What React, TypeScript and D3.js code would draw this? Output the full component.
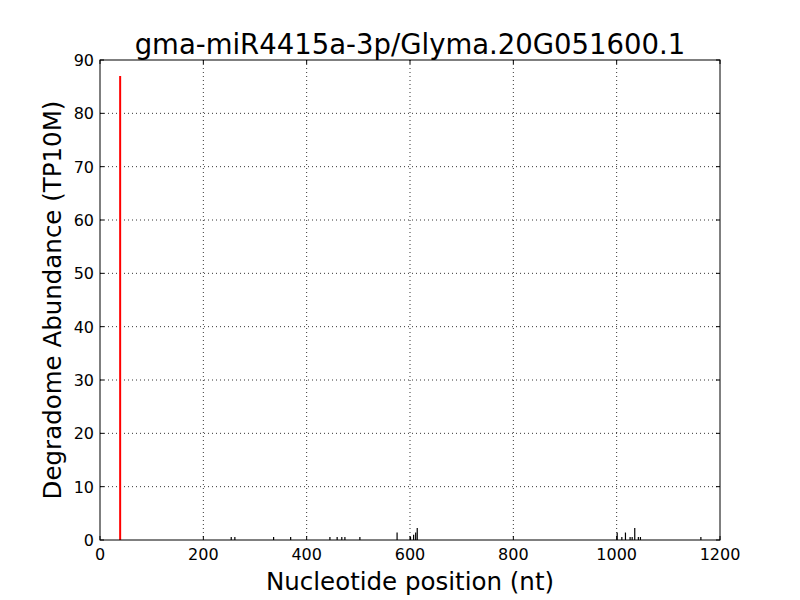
import React from 'react'
import { scaleLinear } from 'd3'

const title = 'gma-miR4415a-3p/Glyma.20G051600.1'
const xLabel = 'Nucleotide position (nt)'
const yLabel = 'Degradome Abundance (TP10M)'

// degradome peaks (position nt, abundance)
const positions = [254, 261, 336, 369, 445, 459, 468, 474, 503, 575, 601, 607, 611, 614, 1001, 1010, 1017, 1026, 1030, 1035, 1042, 1046, 1163]
const abundances = [0.56, 0.56, 0.56, 0.56, 0.56, 0.56, 0.56, 0.56, 0.56, 1.4, 0.56, 1.0, 1.4, 2.25, 1.4, 0.56, 1.4, 0.56, 0.56, 2.25, 0.56, 0.56, 0.56]

// miRNA target site
const sitePosition = 39
const siteAbundance = 87

const xTicks = [0, 200, 400, 600, 800, 1000, 1200]
const yTicks = [0, 10, 20, 30, 40, 50, 60, 70, 80, 90]

function App() {
  const left = 100
  const right = 720
  const top = 60
  const bottom = 540
  const font = 'DejaVu Sans, sans-serif'

  const x = scaleLinear().domain([0, 1200]).range([left, right])
  const y = scaleLinear().domain([0, 90]).range([bottom, top])

  return (
    <svg
      width={800}
      height={600}
      style={{ position: 'absolute', left: 0, top: 0, background: '#fff' }}
      fontFamily={font}
    >
      <rect x={0} y={0} width={800} height={600} fill="#fff" />
      {/* grid */}
      <g stroke="#000" strokeWidth={0.8} strokeDasharray="1,3">
        {xTicks.slice(1, -1).map((t) => (
          <line key={'gx' + t} x1={x(t)} x2={x(t)} y1={top} y2={bottom} />
        ))}
        {yTicks.slice(1, -1).map((t) => (
          <line key={'gy' + t} x1={left} x2={right} y1={y(t)} y2={y(t)} />
        ))}
      </g>
      {/* peaks */}
      <g stroke="#000" strokeWidth={1.2}>
        {positions.map((p, i) => (
          <line key={i} x1={x(p)} x2={x(p)} y1={y(0)} y2={y(abundances[i])} />
        ))}
      </g>
      <line
        x1={x(sitePosition)}
        x2={x(sitePosition)}
        y1={y(0)}
        y2={y(siteAbundance)}
        stroke="#ff0000"
        strokeWidth={2}
      />
      {/* frame */}
      <rect x={left} y={top} width={right - left} height={bottom - top} fill="none" stroke="#000" strokeWidth={1} />
      {/* ticks */}
      <g stroke="#000" strokeWidth={1}>
        {xTicks.map((t) => (
          <g key={'tx' + t}>
            <line x1={x(t)} x2={x(t)} y1={bottom} y2={bottom - 4} />
            <line x1={x(t)} x2={x(t)} y1={top} y2={top + 4} />
          </g>
        ))}
        {yTicks.map((t) => (
          <g key={'ty' + t}>
            <line x1={left} x2={left + 4} y1={y(t)} y2={y(t)} />
            <line x1={right} x2={right - 4} y1={y(t)} y2={y(t)} />
          </g>
        ))}
      </g>
      <g fontSize={16} fill="#000">
        {xTicks.map((t) => (
          <text key={'lx' + t} x={x(t)} y={bottom + 20} textAnchor="middle">
            {t}
          </text>
        ))}
        {yTicks.map((t) => (
          <text key={'ly' + t} x={left - 6} y={y(t) + 6} textAnchor="end">
            {t}
          </text>
        ))}
      </g>
      <text x={(left + right) / 2} y={54} textAnchor="middle" fontSize={27.5}>
        {title}
      </text>
      <text x={(left + right) / 2} y={590} textAnchor="middle" fontSize={24.5}>
        {xLabel}
      </text>
      <text
        transform={`translate(61, ${(top + bottom) / 2}) rotate(-90)`}
        textAnchor="middle"
        fontSize={24.5}
      >
        {yLabel}
      </text>
    </svg>
  )
}

export default App
